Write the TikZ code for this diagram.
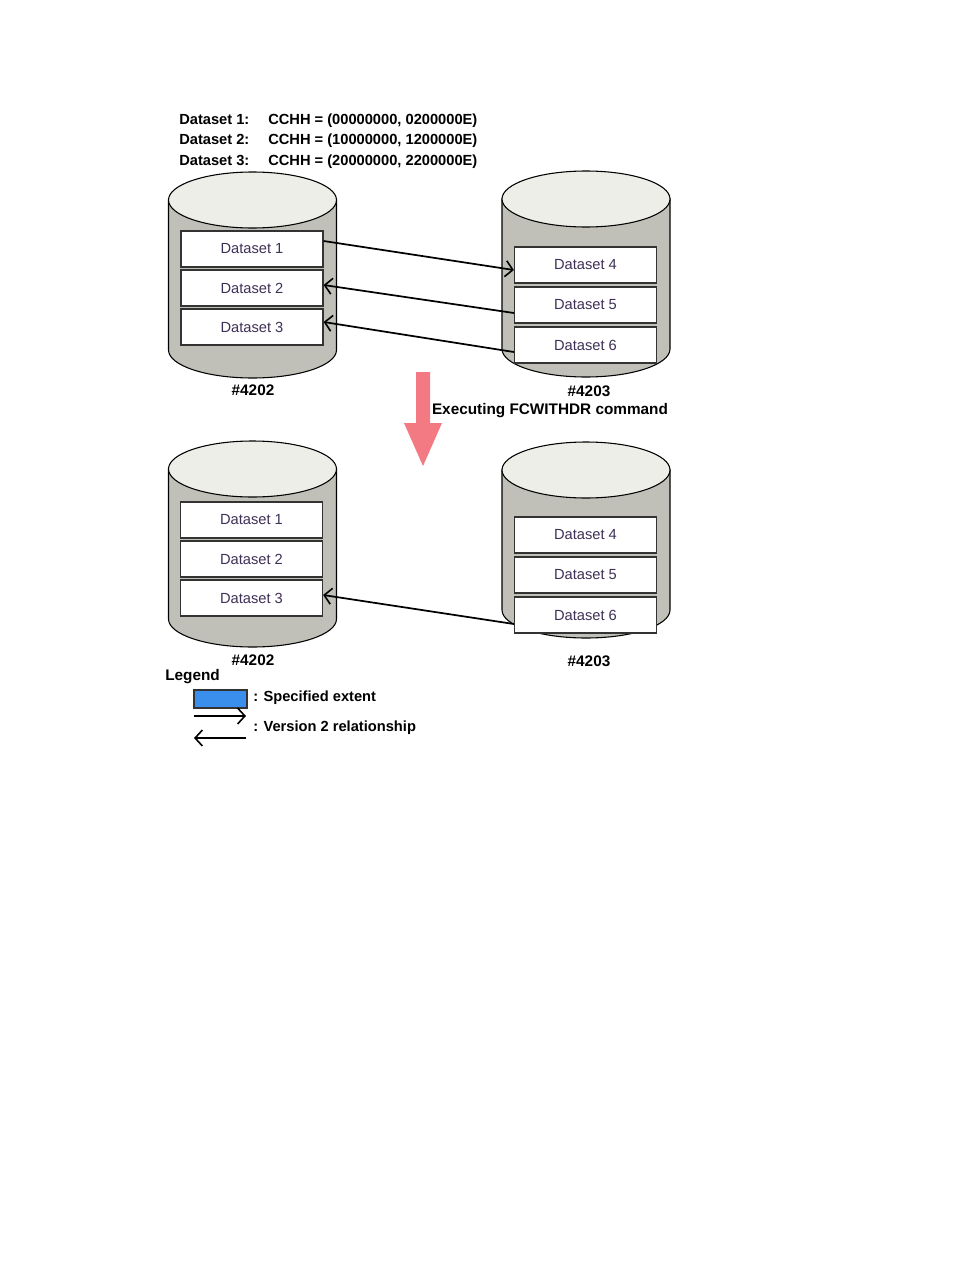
\documentclass[tikz,border=0pt]{standalone}
\usepackage{fontspec}
\setmainfont{Liberation Sans}
\usetikzlibrary{arrows.meta}
\definecolor{cylbody}{RGB}{192,192,184}
\definecolor{cyltop}{RGB}{238,238,232}
\definecolor{dstext}{RGB}{62,48,86}
\definecolor{redarrow}{RGB}{243,122,130}
\definecolor{legblue}{RGB}{58,142,236}
\newcommand\drawcyl[3]{%
  \filldraw[fill=cylbody,draw=black,line width=0.8pt] (#1-84,#2) -- (#1-84,#3)
    arc[start angle=180,end angle=360,x radius=63pt,y radius=21pt] -- (#1+84,#2) -- cycle;
  \filldraw[fill=cyltop,draw=black,line width=0.8pt] (#1,#2) ellipse[x radius=63pt,y radius=21pt];
}
\tikzset{
  dsbox/.style={draw=black!80,line width=0.9pt,fill=white,minimum width=106.5pt,minimum height=27pt,inner sep=0pt,
    font=\fontsize{11pt}{13pt}\selectfont,text=dstext},
  rel/.style={line width=1.3pt,-{Straight Barb[length=5.5pt,width=12pt,line width=1.2pt]}},
  bold/.style={font=\fontsize{11.5pt}{13pt}\selectfont\bfseries,inner sep=0pt},
  hdr/.style={font=\fontsize{11pt}{13pt}\selectfont\bfseries,inner sep=0pt,anchor=base west},
}
\begin{document}
\begin{tikzpicture}[x=0.75pt,y=-0.75pt]
\useasboundingbox (0,0) rectangle (954,1270);
\fill[white] (0,0) rectangle (954,1270);

% header
\node[hdr] (h1a) at (179,124) {Dataset 1:};
\node[hdr] (h1b) at (268,124) {CCHH = (00000000, 0200000E)};
\node[hdr] (h2a) at (179,144) {Dataset 2:};
\node[hdr] (h2b) at (268,144) {CCHH = (10000000, 1200000E)};
\node[hdr] (h3a) at (179,165) {Dataset 3:};
\node[hdr] (h3b) at (268,165) {CCHH = (20000000, 2200000E)};

% cylinders
\drawcyl{252.5}{200}{350}
\drawcyl{586}{199}{349}
\drawcyl{252.5}{469}{619}
\drawcyl{586}{470}{610}

% top datasets
\node[dsbox] (d1) at (252,249) {Dataset 1};
\node[dsbox] (d2) at (252,288) {Dataset 2};
\node[dsbox] (d3) at (252,327) {Dataset 3};
\node[dsbox] (d4) at (585.5,265) {Dataset 4};
\node[dsbox] (d5) at (585.5,305) {Dataset 5};
\node[dsbox] (d6) at (585.5,345) {Dataset 6};

% bottom datasets
\node[dsbox] (b1) at (251.5,520) {Dataset 1};
\node[dsbox] (b2) at (251.5,559) {Dataset 2};
\node[dsbox] (b3) at (251.5,598) {Dataset 3};
\node[dsbox] (b4) at (585.5,535) {Dataset 4};
\node[dsbox] (b5) at (585.5,575) {Dataset 5};
\node[dsbox] (b6) at (585.5,615) {Dataset 6};

% relationships
\draw[rel] ([yshift=6pt]d1.east) -- ([yshift=-3.75pt]d4.west);
\draw[rel] ([yshift=-6pt]d5.west) -- ([yshift=2.25pt]d2.east);
\draw[rel] ([yshift=-5.25pt]d6.west) -- ([yshift=3.75pt]d3.east);
\draw[rel] ([yshift=-6.75pt]b6.west) -- ([yshift=2.25pt]b3.east);

% labels
\node[bold] (l1) at (253,390) {\#4202};
\node[bold] (l2) at (589,391) {\#4203};
\node[bold] (l3) at (550,411) {Executing FCWITHDR command};
\node[bold] (l4) at (253,660) {\#4202};
\node[bold] (l5) at (589,661) {\#4203};

% red arrow
\fill[redarrow] (416,372) -- (430,372) -- (430,423) -- (442,423) -- (423,466) -- (404,423) -- (416,423) -- cycle;

% legend
\node[bold,anchor=west] (lg) at (165,677) {Legend};
\draw[fill=legblue,draw=black!80,line width=0.8pt] (194,690) rectangle (247,708);
\node[bold,anchor=west,font=\fontsize{11pt}{13pt}\selectfont\bfseries] (lt1) at (253,698) {: Specified extent};
\coordinate (ra1) at (194,716);
\coordinate (ra2) at (246,716);
\coordinate (la1) at (246,738);
\coordinate (la2) at (194,738);
\draw[rel] (ra1) -- (ra2);
\draw[rel] (la1) -- (la2);
\node[bold,anchor=west,font=\fontsize{11pt}{13pt}\selectfont\bfseries] (lt2) at (253,728) {: Version 2 relationship};
\end{tikzpicture}
\end{document}
